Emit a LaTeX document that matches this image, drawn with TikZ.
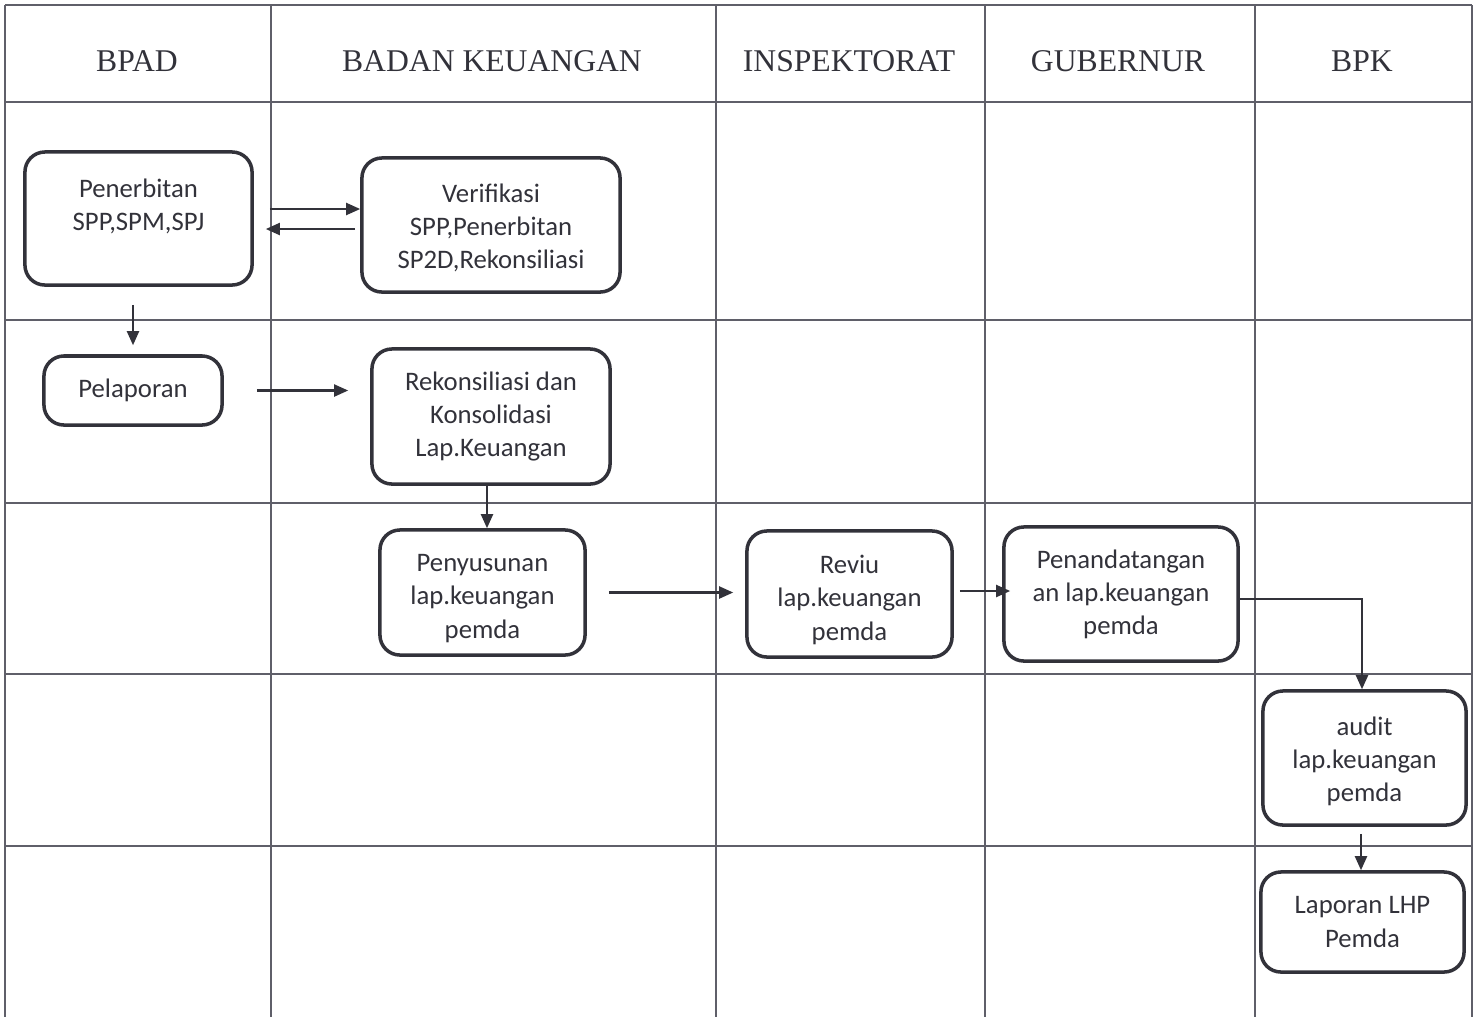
\documentclass[tikz,border=0pt]{standalone}
\usepackage{fontspec}
\setmainfont{Liberation Serif}
\newfontfamily\boxfont{Carlito}
\usepackage{tikz}
\usetikzlibrary{arrows.meta,positioning}
\definecolor{ink}{RGB}{50,50,58}
\definecolor{gridline}{RGB}{95,95,105}
\newcommand{\lift}[1]{\rule{0pt}{#1}}

\begin{document}
\begin{tikzpicture}[x=0.01cm,y=-0.01cm,
  every node/.style={text=ink},
  lane/.style={font=\fontsize{9}{11}\selectfont},
  box/.style={draw=ink, line width=1pt, rounded corners=0.2cm, align=center, inner sep=0pt, font=\boxfont\fontsize{7.6}{9.4}\selectfont},
  flow/.style={draw=ink, line width=0.6pt, -{Triangle[length=0.14cm,width=0.12cm]}}]
  \useasboundingbox (0,0) rectangle (1478,1017);
  % swimlane grid
  \draw[gridline, line width=0.4pt] (5,5) -- (1472,5) (5,102) -- (1472,102) (5,320) -- (1472,320)
    (5,503) -- (1472,503) (5,674) -- (1472,674) (5,846) -- (1472,846);
  \foreach \x in {5,271,716,985,1255,1472}
    \draw[gridline, line width=0.4pt] (\x,5) -- (\x,1017);
  % lane headings
  \node[lane] (hbpad) at (137,61) {BPAD};
  \node[lane] (hbk) at (492,61) {BADAN KEUANGAN};
  \node[lane] (hins) at (849,61) {INSPEKTORAT};
  \node[lane] (hgub) at (1118,61) {GUBERNUR};
  \node[lane] (hbpk) at (1362,61) {BPK};
  % process boxes
  \node[box, minimum width=2.27cm, minimum height=1.33cm] (pen) at (138.5,218.5) {\lift{9.9pt}Penerbitan\\SPP,SPM,SPJ\\ \strut};
  \node[box, minimum width=2.58cm, minimum height=1.34cm] (ver) at (491,225) {\lift{7pt}Verifikasi\\SPP,Penerbitan\\SP2D,Rekonsiliasi};
  \node[box, minimum width=1.78cm, minimum height=0.69cm] (pel) at (133,390.5) {Pelaporan};
  \node[box, minimum width=2.38cm, minimum height=1.35cm] (rek) at (491,416.5) {Rekonsiliasi dan\\Konsolidasi\\Lap.Keuangan};
  \node[box, minimum width=2.05cm, minimum height=1.25cm] (pny) at (482.5,592.5) {\lift{8.3pt}Penyusunan\\lap.keuangan\\pemda};
  \node[box, minimum width=2.05cm, minimum height=1.26cm] (rev) at (849.5,594) {\lift{8.6pt}Reviu\\lap.keuangan\\pemda};
  \node[box, minimum width=2.34cm, minimum height=1.34cm] (ptd) at (1121,594) {Penandatangan\\an lap.keuangan\\pemda};
  \node[box, minimum width=2.03cm, minimum height=1.34cm] (aud) at (1364.5,758) {\lift{7pt}audit\\lap.keuangan\\pemda};
  \node[box, minimum width=2.03cm, minimum height=1.0cm] (lhp) at (1362.5,922) {Laporan LHP\\Pemda};
  % connectors
  \draw[flow, shorten <=0.16cm] ([yshift=0.095cm]pen.east) -- ([yshift=0.095cm]pen.east -| ver.west);
  \draw[flow, shorten <=0.05cm, shorten >=0.12cm] ([yshift=-0.105cm]pen.east -| ver.west) -- ([yshift=-0.105cm]pen.east);
  \draw[flow, shorten <=0.18cm, shorten >=0.09cm] (pel.north |- pen.south) -- (pel.north);
  \draw[flow, shorten <=0.33cm, shorten >=0.22cm] (pel.east) -- (pel.east -| rek.west);
  \draw[flow] ([xshift=-0.04cm]rek.south) -- ([xshift=-0.04cm]rek.south |- pny.north);
  \draw[flow, shorten <=0.22cm, shorten >=0.12cm] (pny.east) -- (pny.east -| rev.west);
  \draw[flow, shorten <=0.06cm, shorten >=-0.08cm] ([yshift=0.03cm]rev.east) -- ([yshift=0.03cm]rev.east -| ptd.west);
  \draw[flow] ([yshift=-0.05cm]ptd.east) -| ([xshift=-0.025cm]aud.north);
  \draw[flow, shorten <=0.07cm] ([xshift=-0.035cm]aud.south) -- ([xshift=-0.035cm]aud.south |- lhp.north);
\end{tikzpicture}
\end{document}
